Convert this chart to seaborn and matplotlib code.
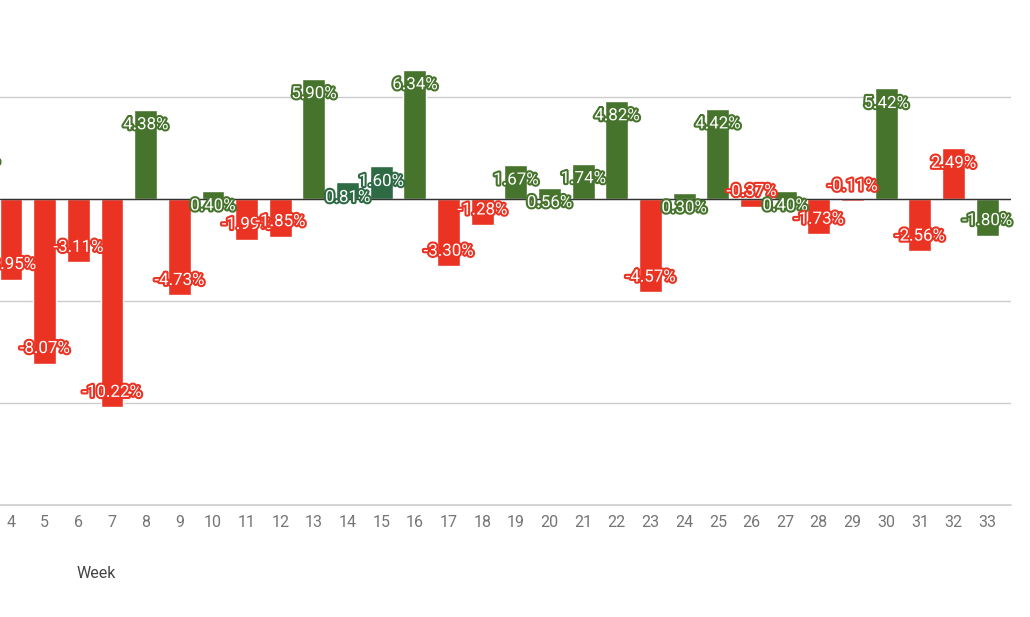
import pandas as pd
import matplotlib.pyplot as plt
import matplotlib.patheffects as pe
import seaborn as sns

# weekly change (%), week 3 is only partly visible at the left edge
weeks = [str(w) for w in range(3, 34)]
changes = [2.65, -3.95, -8.07, -3.11, -10.22, 4.38, -4.73, 0.40, -1.99, -1.85,
           5.90, 0.81, 1.60, 6.34, -3.30, -1.28, 1.67, 0.56, 1.74, 4.82,
           -4.57, 0.30, 4.42, -0.37, 0.40, -1.73, -0.11, 5.42, -2.56, 2.49, -1.80]
groups = ['up', 'down', 'down', 'down', 'down', 'up', 'down', 'up', 'down', 'down',
          'up', 'mid', 'mid', 'up', 'down', 'down', 'up', 'up', 'up', 'up',
          'down', 'up', 'up', 'down', 'up', 'down', 'down', 'up', 'down', 'down', 'up']

colors = {'up': '#47742C', 'down': '#EA3323', 'mid': '#2E6B45'}

df = pd.DataFrame({'Week': weeks, 'Change': changes, 'Group': groups})

sns.set_theme(style="white")
plt.rcParams['font.family'] = ['Roboto', 'DejaVu Sans']

fig = plt.figure(figsize=(10.3, 6.17), dpi=100)
# the chart is cropped: axes run off the left and top of the picture
ax = fig.add_axes([0, 112 / 617, 1011 / 1030, 505 / 617])

sns.barplot(data=df, x='Week', y='Change', hue='Group', palette=colors,
            dodge=False, width=0.68, saturation=1, legend=False, order=weeks, ax=ax)

ax.set_xlim(0.673, 30.71)
ax.set_ylim(-15, 9.755)
ax.set_yticks([-10, -5, 0, 5])
ax.yaxis.grid(True, color='#cccccc', lw=1)
ax.set_axisbelow(True)
ax.axhline(0, color='#333333', lw=1, zorder=3)
ax.axhline(-15, color='#cccccc', lw=1.2, clip_on=False)
for s in ax.spines.values():
    s.set_visible(False)
ax.set_yticklabels([])
ax.set_ylabel('')
ax.set_xlabel('')
ax.tick_params(axis='x', length=0, pad=7, labelsize=11.5, labelcolor='#757575')
ax.tick_params(axis='y', length=0)

# labels sit just inside the end of each bar
off = 0.74
for i, (v, g) in enumerate(zip(changes, groups)):
    y = v - off if v >= 0 else v + off
    ax.text(i, y, f"{v:.2f}%", ha='center', va='center', fontsize=12.2,
            color='white', zorder=5, clip_on=False,
            path_effects=[pe.withStroke(linewidth=3, foreground=colors[g])])

fig.text(96 / 1030, 1 - 573 / 617, 'Week', ha='center', va='center',
         fontsize=11.5, color='#444444')

fig.savefig('out.png', dpi=100)
